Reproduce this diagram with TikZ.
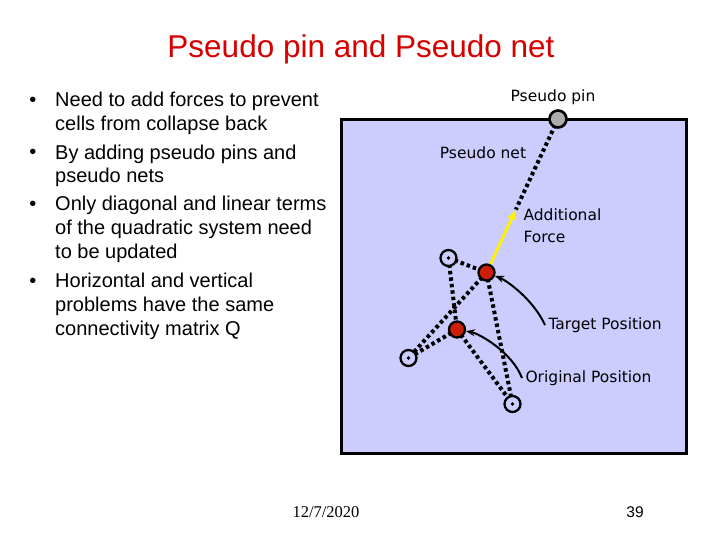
\documentclass[tikz,border=0pt]{standalone}
\usepackage{fontspec}
\setmainfont{Liberation Sans}
\newfontfamily\figfont{DejaVu Sans}
\newfontfamily\datefont{Liberation Serif}
\usetikzlibrary{arrows.meta,calc}
\definecolor{titlered}{RGB}{214,0,0}
\definecolor{boxblue}{RGB}{204,204,255}
\definecolor{cellred}{RGB}{205,30,10}
\pgfdeclarelayer{back}
\pgfdeclarelayer{nets}
\pgfsetlayers{back,nets,main}

\begin{document}
\begin{tikzpicture}[x=1pt, y=-1pt,
    % Estilos
    every node/.style={font=\figfont\fontsize{15.5}{22}\selectfont},
    bullettext/.style={anchor=base west, inner sep=0pt, align=left,
                       font=\fontsize{20}{24}\selectfont},
    bulletdot/.style={anchor=base, inner sep=0pt, font=\fontsize{20}{24}\selectfont},
    cell/.style={circle, draw, line width=2.3pt, minimum size=16pt, inner sep=0pt,
                 fill=boxblue},
    moved/.style={circle, draw, line width=2.3pt, minimum size=16pt, inner sep=0pt,
                  fill=cellred},
    pseudopin/.style={circle, draw, line width=2.6pt, minimum size=17pt, inner sep=0pt,
                      fill=gray!65},
    net/.style={line width=4pt, dash pattern=on 3.5pt off 3pt},
    pointer/.style={line width=2pt, -{Stealth[length=9pt,width=7pt]}},
    force/.style={yellow, line width=3pt, -{Latex[length=10pt,width=9pt]}}
]
\useasboundingbox (0,0) rectangle (720,540);

% Title
\node[anchor=base, font=\fontsize{31.5}{36}\selectfont, text=titlered] (title)
    at (361,58) {Pseudo pin and Pseudo net};

% Bullets (base = last line)
\node[bulletdot] (d1) at (33,107) {\textbullet};
\node[bullettext] (b1) at (55,131) {Need to add forces to prevent\\cells from collapse back};
\node[bulletdot] (d2) at (33,159) {\textbullet};
\node[bullettext] (b2) at (55,183) {By adding pseudo pins and\\pseudo nets};
\node[bulletdot] (d3) at (33,210.5) {\textbullet};
\node[bullettext] (b3) at (55,258.5) {Only diagonal and linear terms\\of the quadratic system need\\to be updated};
\node[bulletdot] (d4) at (33,287) {\textbullet};
\node[bullettext] (b4) at (55,335) {Horizontal and vertical\\problems have the same\\connectivity matrix Q};

% Placement area
\begin{pgfonlayer}{back}
\node[draw, line width=3pt, fill=boxblue, minimum width=345pt, minimum height=333pt,
      inner sep=0pt] (area) at (513.5,286.5) {};
\end{pgfonlayer}

% Cells
\node[pseudopin] (pin) at (558,119) {};
\node[moved] (tgt) at (486.5,272.5) {};
\node[moved] (orig) at (457,329.5) {};
\node[cell] (cA) at (448.5,258) {};
\node[cell] (cB) at (408.5,358) {};
\node[cell] (cC) at (512.5,404) {};
\foreach \c in {cA,cB,cC}
    \fill (\c) circle (1.9pt);

% Nets
\begin{pgfonlayer}{nets}
\coordinate (forcetip) at ($(tgt)!0.41!(pin)$);
\draw[net] (pin.center) -- (forcetip);
\draw[net] (cA.center) -- (tgt.center);
\draw[net] (cA.center) -- (orig.center);
\draw[net] (tgt.center) -- (cB.center);
\draw[net] (orig.center) -- (cB.center);
\draw[net] (tgt.center) -- (cC.center);
\draw[net] (orig.center) -- (cC.center);
\draw[force] (tgt.center) -- (forcetip);
\end{pgfonlayer}

% Labels
\node (pinlbl) at (553,97) {Pseudo pin};
\node (netlbl) at (483,153) {Pseudo net};
\node[anchor=west, align=left] (forcelbl) at (520,226) {Additional\\Force};
\node[anchor=west] (tgtlbl) at (545,325) {Target Position};
\node[anchor=west] (origlbl) at (522,378) {Original Position};

\draw[pointer] (tgtlbl.west) .. controls +(-12,-26) and +(20,8) .. (tgt);
\draw[pointer] (origlbl.west) .. controls +(-10,-26) and +(22,4) .. (orig);

% Footer
\node[anchor=base, font=\datefont\fontsize{16.5}{20}\selectfont] (date) at (326,517) {12/7/2020};
\node[anchor=base, font=\fontsize{15.5}{20}\selectfont] (page) at (635,517) {39};

\end{tikzpicture}
\end{document}
